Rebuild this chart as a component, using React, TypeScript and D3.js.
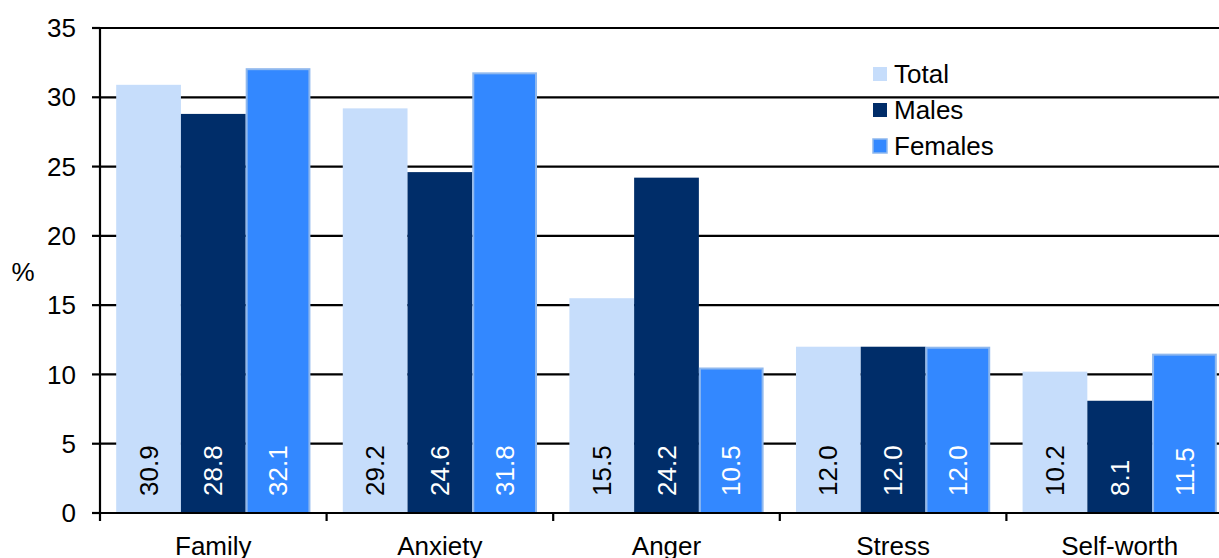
import React, { useEffect, useRef } from 'react'
import * as d3 from 'd3'

const categories = ['Family', 'Anxiety', 'Anger', 'Stress', 'Self-worth']
const seriesNames = ['Total', 'Males', 'Females']
const totalValues = [30.9, 29.2, 15.5, 12.0, 10.2]
const maleValues = [28.8, 24.6, 24.2, 12.0, 8.1]
const femaleValues = [32.1, 31.8, 10.5, 12.0, 11.5]
const yTicks = [0, 5, 10, 15, 20, 25, 30, 35]

const colors = ['#c6ddfb', '#002d69', '#3388ff']
const strokes = ['none', 'none', '#8fb8ee']
const labelColors = ['#000', '#fff', '#fff']

const App: React.FC = () => {
  const svgRef = useRef<SVGSVGElement>(null)
  const width = 1219
  const height = 558

  useEffect(() => {
    if (!svgRef.current) return
    const svg = d3.select(svgRef.current)
    svg.selectAll('*').remove()

    const font = 'Arial, "Liberation Sans", sans-serif'
    const fontSize = '26px'
    const left = 100
    const top = 28
    const bottom = 513
    const step = 226.6

    const x0 = d3.scaleBand<string>()
      .domain(categories)
      .range([left, left + step * categories.length])
      .padding(0)

    const x1 = d3.scaleBand<string>()
      .domain(seriesNames)
      .range([0, x0.bandwidth()])
      .paddingInner(0)
      .paddingOuter(0.25)

    const y = d3.scaleLinear().domain([0, 35]).range([bottom, top])

    const rows = categories.map((c, i) => ({
      category: c,
      values: [totalValues[i], maleValues[i], femaleValues[i]]
    }))

    // gridlines
    svg.append('g')
      .selectAll('line')
      .data(yTicks.filter(t => t > 0))
      .enter()
      .append('line')
      .attr('x1', left)
      .attr('x2', width)
      .attr('y1', d => y(d))
      .attr('y2', d => y(d))
      .attr('stroke', '#000')
      .attr('stroke-width', 2.2)

    // bars
    const groups = svg.append('g')
      .selectAll('g')
      .data(rows)
      .enter()
      .append('g')
      .attr('transform', d => `translate(${x0(d.category)},0)`)

    groups.selectAll('rect')
      .data(d => d.values.map((v, i) => ({ v, i })))
      .enter()
      .append('rect')
      .attr('x', d => (x1(seriesNames[d.i]) ?? 0) + (d.i === 2 ? 1 : 0))
      .attr('width', d => x1.bandwidth() - (d.i === 2 ? 2 : 0))
      .attr('y', d => y(d.v) + (d.i === 2 ? 1 : 0))
      .attr('height', d => bottom - y(d.v) - (d.i === 2 ? 1 : 0))
      .attr('fill', d => colors[d.i])
      .attr('stroke', d => strokes[d.i])
      .attr('stroke-width', 2)

    groups.selectAll('text')
      .data(d => d.values.map((v, i) => ({ v, i })))
      .enter()
      .append('text')
      .attr('transform', d => {
        const cx = (x1(seriesNames[d.i]) ?? 0) + x1.bandwidth() / 2
        return `translate(${cx},${bottom - 17}) rotate(-90)`
      })
      .attr('dy', '0.35em')
      .attr('text-anchor', 'start')
      .style('font-family', font)
      .style('font-size', fontSize)
      .style('fill', d => labelColors[d.i])
      .text(d => d.v.toFixed(1))

    // y axis
    svg.append('line')
      .attr('x1', left).attr('x2', left)
      .attr('y1', top - 1).attr('y2', bottom + 8)
      .attr('stroke', '#000').attr('stroke-width', 2.2)

    const yt = svg.append('g')
      .selectAll('g')
      .data(yTicks)
      .enter()
      .append('g')
    yt.append('line')
      .attr('x1', left - 8).attr('x2', left)
      .attr('y1', d => y(d)).attr('y2', d => y(d))
      .attr('stroke', '#000').attr('stroke-width', 2.2)
    yt.append('text')
      .attr('x', 76)
      .attr('y', d => y(d))
      .attr('dy', '0.35em')
      .attr('text-anchor', 'end')
      .style('font-family', font)
      .style('font-size', fontSize)
      .text(d => d)

    svg.append('text')
      .attr('x', 23)
      .attr('y', 272)
      .attr('dy', '0.35em')
      .attr('text-anchor', 'middle')
      .style('font-family', font)
      .style('font-size', fontSize)
      .text('%')

    // x axis
    svg.append('line')
      .attr('x1', left).attr('x2', width)
      .attr('y1', bottom).attr('y2', bottom)
      .attr('stroke', '#000').attr('stroke-width', 2.2)

    svg.append('g')
      .selectAll('line')
      .data(categories)
      .enter()
      .append('line')
      .attr('x1', d => (x0(d) ?? 0) + x0.bandwidth())
      .attr('x2', d => (x0(d) ?? 0) + x0.bandwidth())
      .attr('y1', bottom)
      .attr('y2', bottom + 8)
      .attr('stroke', '#000').attr('stroke-width', 2.2)

    svg.append('g')
      .selectAll('text')
      .data(categories)
      .enter()
      .append('text')
      .attr('x', d => (x0(d) ?? 0) + x0.bandwidth() / 2)
      .attr('y', 555)
      .attr('text-anchor', 'middle')
      .style('font-family', font)
      .style('font-size', fontSize)
      .text(d => d)

    // legend
    const legend = svg.append('g')
      .selectAll('g')
      .data(seriesNames)
      .enter()
      .append('g')
      .attr('transform', (_d, i) => `translate(873,${74 + i * 36})`)
    legend.append('rect')
      .attr('x', 0).attr('y', -7)
      .attr('width', 14).attr('height', 14)
      .attr('fill', (_d, i) => colors[i])
      .attr('stroke', (_d, i) => strokes[i])
      .attr('stroke-width', 1.5)
    legend.append('text')
      .attr('x', 21)
      .attr('y', 0)
      .attr('dy', '0.35em')
      .style('font-family', font)
      .style('font-size', fontSize)
      .text(d => d)
  }, [])

  return (
    <div style={{ position: 'fixed', left: 0, top: 0 }}>
      <svg ref={svgRef} width={width} height={height} style={{ display: 'block', background: '#fff' }} />
    </div>
  )
}

export default App
